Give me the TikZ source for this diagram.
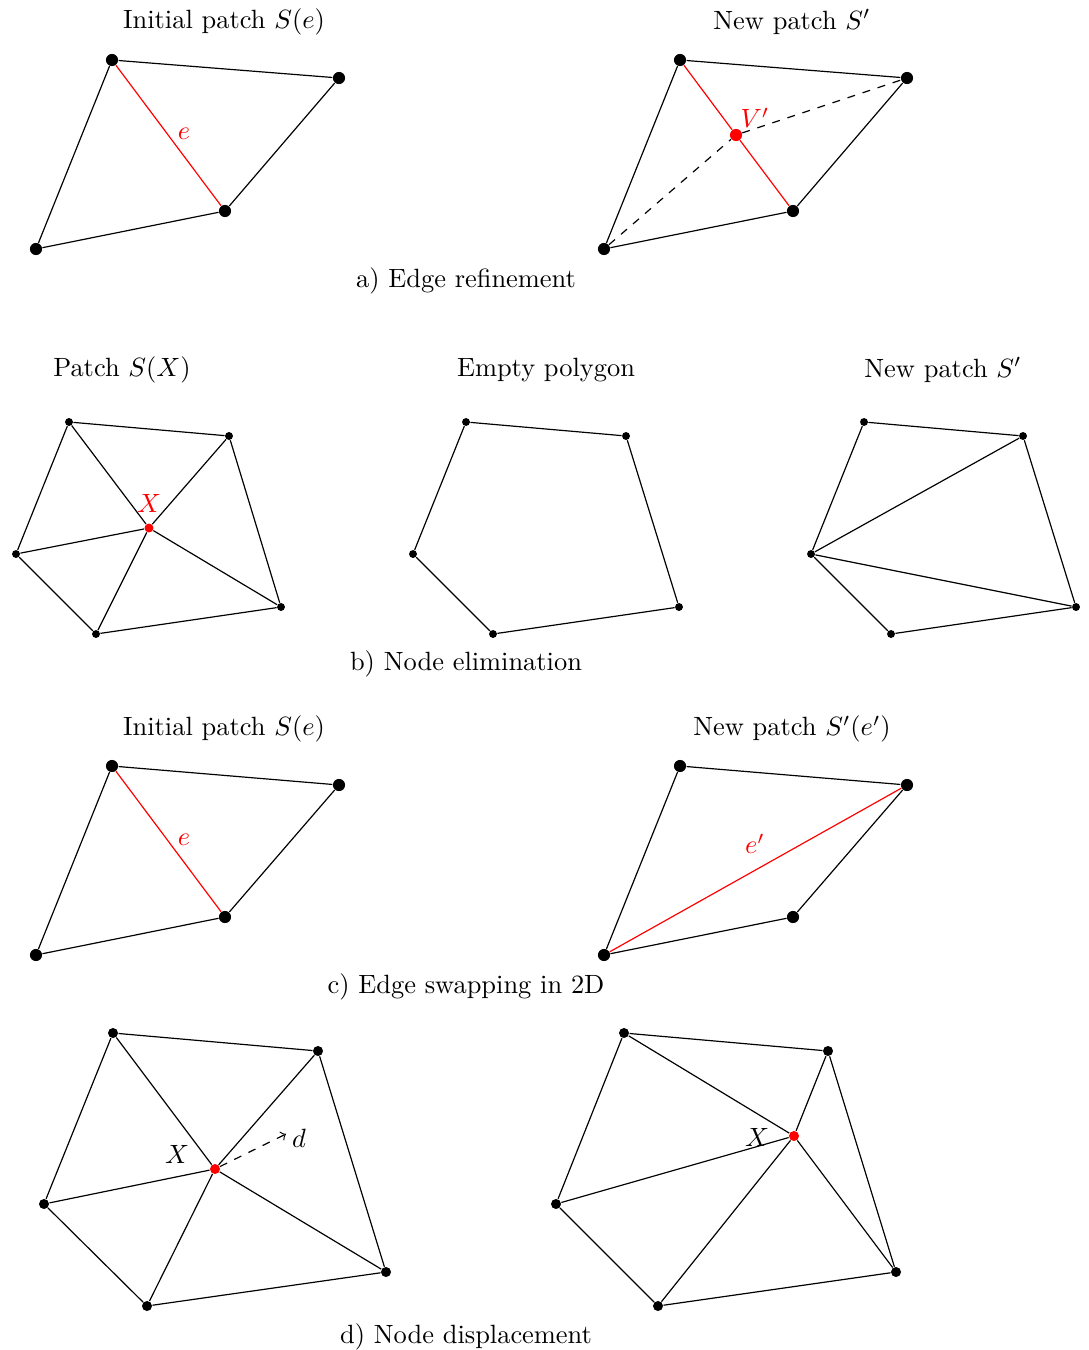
\documentclass[tikz,border=0pt]{standalone}
\begin{document}
\begin{tikzpicture}[x=0.0133cm,y=-0.0133cm,
  dot/.style={circle,fill=black,inner sep=0pt,minimum size=4.6pt},
  smalldot/.style={circle,fill=black,inner sep=0pt,minimum size=3pt},
  middot/.style={circle,fill=black,inner sep=0pt,minimum size=3.8pt},
  reddot/.style={circle,fill=red,inner sep=0pt,minimum size=#1},
  edge/.style={line width=0.45pt},
  redge/.style={line width=0.45pt,red}]
\useasboundingbox (0,0) rectangle (1089,1350);
% a) edge refinement
\node at (224,22) {Initial patch $S(e)$};
\node[dot] (a1) at (112,60) {};
\node[dot] (a2) at (339,78) {};
\node[dot] (a3) at (225,211) {};
\node[dot] (a4) at (36,249) {};
\draw[edge] (a1) -- (a2) -- (a3) -- (a4) -- (a1);
\draw[redge] (a1) -- (a3);
\node[red] at (184,134) {$e$};
\node at (792,22) {New patch $S'$};
\node[dot] (b1) at (680,60) {};
\node[dot] (b2) at (907,78) {};
\node[dot] (b3) at (793,211) {};
\node[dot] (b4) at (604,249) {};
\node[reddot=4.6pt] (bv) at (736,135) {};
\draw[edge] (b1) -- (b2) -- (b3) -- (b4) -- (b1);
\draw[redge] (b1) -- (bv) -- (b3);
\draw[edge,dashed] (b4) -- (bv) -- (b2);
\node[red] at (755,118) {$V'$};
\node at (466,281) {a) Edge refinement};
% b) node elimination
\node at (122,370) {Patch $S(X)$};
\node[smalldot] (c1) at (69,422) {};
\node[smalldot] (c2) at (229,436) {};
\node[smalldot] (c3) at (281,607) {};
\node[smalldot] (c4) at (96,634) {};
\node[smalldot] (c5) at (16,554) {};
\node[reddot=3.4pt] (cx) at (149,528) {};
\draw[edge] (c1) -- (c2) -- (c3) -- (c4) -- (c5) -- (c1);
\foreach \i in {1,...,5} \draw[edge] (cx) -- (c\i);
\node[red] at (149,503) {$X$};
\node at (546,370) {Empty polygon};
\node[smalldot] (d1) at (466,422) {};
\node[smalldot] (d2) at (626,436) {};
\node[smalldot] (d3) at (679,607) {};
\node[smalldot] (d4) at (493,634) {};
\node[smalldot] (d5) at (413,554) {};
\draw[edge] (d1) -- (d2) -- (d3) -- (d4) -- (d5) -- (d1);
\node at (943,370) {New patch $S'$};
\node[smalldot] (e1) at (864,422) {};
\node[smalldot] (e2) at (1023,436) {};
\node[smalldot] (e3) at (1076,607) {};
\node[smalldot] (e4) at (891,634) {};
\node[smalldot] (e5) at (811,554) {};
\draw[edge] (e1) -- (e2) -- (e3) -- (e4) -- (e5) -- (e1);
\draw[edge] (e2) -- (e5) -- (e3);
\node at (466,664) {b) Node elimination};
% c) edge swapping
\node at (224,729) {Initial patch $S(e)$};
\node[dot] (f1) at (112,766) {};
\node[dot] (f2) at (339,785) {};
\node[dot] (f3) at (225,917) {};
\node[dot] (f4) at (36,955) {};
\draw[edge] (f1) -- (f2) -- (f3) -- (f4) -- (f1);
\draw[redge] (f1) -- (f3);
\node[red] at (184,840) {$e$};
\node at (792,729) {New patch $S'(e')$};
\node[dot] (g1) at (680,766) {};
\node[dot] (g2) at (907,785) {};
\node[dot] (g3) at (793,917) {};
\node[dot] (g4) at (604,955) {};
\draw[edge] (g1) -- (g2) -- (g3) -- (g4) -- (g1);
\draw[redge] (g4) -- (g2);
\node[red] at (755,844) {$e'$};
\node at (466,987) {c) Edge swapping in 2D};
% d) node displacement
\node[middot] (h1) at (113,1033) {};
\node[middot] (h2) at (318,1051) {};
\node[middot] (h3) at (386,1272) {};
\node[middot] (h4) at (147,1306) {};
\node[middot] (h5) at (44,1204) {};
\node[reddot=3.8pt] (hx) at (215,1169) {};
\draw[edge] (h1) -- (h2) -- (h3) -- (h4) -- (h5) -- (h1);
\foreach \i in {1,...,5} \draw[edge] (hx) -- (h\i);
\node at (177,1154) {$X$};
\coordinate (hd) at (286,1134);
\draw[edge,dashed,->] (hx) -- (hd);
\node at (299,1138) {$d$};
\node[middot] (k1) at (624,1033) {};
\node[middot] (k2) at (828,1051) {};
\node[middot] (k3) at (896,1272) {};
\node[middot] (k4) at (658,1306) {};
\node[middot] (k5) at (556,1204) {};
\node[reddot=3.8pt] (kx) at (794,1136) {};
\draw[edge] (k1) -- (k2) -- (k3) -- (k4) -- (k5) -- (k1);
\foreach \i in {1,...,5} \draw[edge] (kx) -- (k\i);
\node at (757,1137) {$X$};
\node at (466,1337) {d) Node displacement};
\end{tikzpicture}
\end{document}
